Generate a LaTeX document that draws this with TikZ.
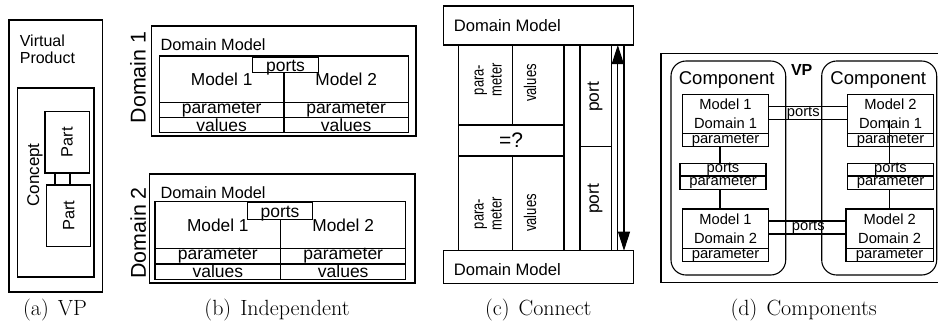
\documentclass[tikz,border=0pt]{standalone}
\usepackage{fontspec}
\newfontfamily\lsans{Liberation Sans}
\usepackage{tikz}
\usetikzlibrary{arrows.meta}

\begin{document}
\begin{tikzpicture}[
    x=1pt, y=-1pt, line width=1.1pt,
    cell/.style={rectangle, draw, inner sep=0pt, outer sep=0pt, anchor=north west},
    comp/.style={cell, rounded corners=15pt},
    whitecell/.style={cell, fill=white},
    txt/.style={inner sep=0pt, font=\lsans\fontsize{#1}{#1}\selectfont},
    subcap/.style={inner sep=0pt, anchor=base, font=\fontsize{22}{24}\selectfont},
    arrow/.style={-{Triangle[length=19pt, width=12pt]}}
]
\useasboundingbox (0,0) rectangle (938,322);

\node[cell, minimum width=93.7, minimum height=272] (vp) at (9,20) {};
\node[txt=16, anchor=base west] (vptxt) at (19.3,46.7) {Virtual};
\node[txt=16, anchor=base west] (vptxt2) at (19.3,63.3) {Product};
\node[cell, minimum width=76.7, minimum height=189] (concept) at (17.3,88) {};
\node[txt=17, rotate=90] (concepttxt) at (35,175) {Concept};
\node[cell, minimum width=44.3, minimum height=61.3] (part1) at (45,111.7) {};
\node[txt=16.4, rotate=90] (part1txt) at (part1.center) {Part};
\node[cell, minimum width=44, minimum height=61.3] (part2) at (46.7,185) {};
\node[txt=16.4, rotate=90] (part2txt) at (part2.center) {Part};
\draw ([xshift=10pt]part1.south west) -- ([xshift=10pt]part1.south west |- part2.north);
\draw ([xshift=25pt]part1.south west) -- ([xshift=25pt]part1.south west |- part2.north);
\node[subcap] (capa) at (55,315) {(a)\hspace{9pt}VP};

\node[cell, minimum width=264.3, minimum height=110] (dom1) at (151.7,26) {};
\node[txt=21.4, rotate=90] (dom1txt) at (138,77.5) {Domain 1};
\node[txt=16.3, anchor=base west] (dm1txt) at (160,50) {Domain Model};
\node[cell, minimum width=124.7, minimum height=46.3, txt=17.3] (mod11) at (159.3,56) {Model 1};
\node[cell, minimum width=124.3, minimum height=46.3, txt=17.3] (mod21) at (284,56) {Model 2};
\node[cell, minimum width=124.7, minimum height=15, txt=17.5] (par11) at (159.3,102.3) {parameter};
\node[cell, minimum width=124.3, minimum height=15, txt=17.5] (par21) at (284,102.3) {parameter};
\node[cell, minimum width=124.7, minimum height=15.4, txt=17.5] (val11) at (159.3,117.3) {values};
\node[cell, minimum width=124.3, minimum height=15.4, txt=17.5] (val21) at (284,117.3) {values};
\node[whitecell, minimum width=65.6, minimum height=15] (ports1) at (252.7,57.3) {};
\node[txt=17.5, anchor=base] (ports1txt) at (285.5,71) {ports};

\node[cell, minimum width=265.7, minimum height=109] (dom2) at (149.3,174) {};
\node[txt=21.4, rotate=90] (dom2txt) at (138.3,233) {Domain 2};
\node[txt=16.3, anchor=base west] (dm2txt) at (160,198.3) {Domain Model};
\node[cell, minimum width=125.7, minimum height=46.6, txt=17.3] (mod12) at (155,201.7) {Model 1};
\node[cell, minimum width=125, minimum height=46.6, txt=17.3] (mod22) at (280.7,201.7) {Model 2};
\node[cell, minimum width=125.7, minimum height=15.7, txt=17.5] (par12) at (155,248.3) {parameter};
\node[cell, minimum width=125, minimum height=15.7, txt=17.5] (par22) at (280.7,248.3) {parameter};
\node[cell, minimum width=125.7, minimum height=15.3, txt=17.5] (val12) at (155,264) {values};
\node[cell, minimum width=125, minimum height=15.3, txt=17.5] (val22) at (280.7,264) {values};
\node[whitecell, minimum width=65.4, minimum height=17.3] (ports2) at (247.3,202) {};
\node[txt=17.5, anchor=base] (ports2txt) at (280,217.5) {ports};
\node[subcap] (capb) at (277,315) {(b)\hspace{9pt}Independent};

\node[cell, minimum width=190, minimum height=39] (dmtop) at (443.3,6) {};
\node[txt=16.6, anchor=base west] (dmtoptxt) at (453.3,31.7) {Domain Model};
\node[cell, minimum width=190, minimum height=32.6] (dmbot) at (443.3,250.7) {};
\node[txt=16.6, anchor=base west] (dmbottxt) at (453.3,275.5) {Domain Model};
\node[cell, minimum width=54, minimum height=80] (parU) at (458.3,45) {};
\node[cell, minimum width=51.7, minimum height=80] (valU) at (512.3,45) {};
\node[cell, minimum width=105.7, minimum height=31, txt=21] (eq) at (458.3,125) {=?};
\node[cell, minimum width=54, minimum height=94.7] (parL) at (458.3,156) {};
\node[cell, minimum width=51.7, minimum height=94.7] (valL) at (512.3,156) {};
\node[cell, minimum width=31.7, minimum height=101.7] (portU) at (580,45) {};
\node[cell, minimum width=31.7, minimum height=104] (portL) at (580,146.7) {};
\node[txt=16.8, font=\lsans\fontsize{16.8}{18}\selectfont, rotate=90] (parUtxt) at (489,80) {\scalebox{0.77}[1]{\begin{tabular}{@{}c@{}}para-\\meter\end{tabular}}};
\node[txt=16.8, font=\lsans\fontsize{16.8}{18}\selectfont, rotate=90] (parLtxt) at (489,214) {\scalebox{0.77}[1]{\begin{tabular}{@{}c@{}}para-\\meter\end{tabular}}};
\node[txt=17, rotate=90] (valUtxt) at (530,83) {\scalebox{0.77}[1]{values}};
\node[txt=17, rotate=90] (valLtxt) at (530,213) {\scalebox{0.77}[1]{values}};
\node[txt=17.4, rotate=90] (portUtxt) at (595,97) {port};
\node[txt=17.4, rotate=90] (portLtxt) at (595,198.7) {port};
\draw[arrow] ([xshift=-15.5pt]dmbot.north east) -- ([xshift=-15.5pt]dmtop.south east);
\draw[arrow] ([xshift=-9.3pt]dmtop.south east) -- ([xshift=-9.3pt]dmbot.north east);
\node[subcap] (capc) at (538.3,315) {(c)\hspace{9pt}Connect};

\node[cell, minimum width=278.5, minimum height=229.4] (vpd) at (661,53.3) {};
\node[txt=16, font=\lsans\bfseries\fontsize{16}{16}\selectfont] (vpdtxt) at (801.7,70) {VP};
\node[comp, minimum width=114.7, minimum height=214] (compL) at (671,61) {};
\node[comp, minimum width=115, minimum height=214] (compR) at (821.7,61) {};
\node[txt=18.5] (compLtxt) at (726.7,80) {Component};
\node[txt=18.5] (compRtxt) at (878.3,80) {Component};
\node[cell, minimum width=85.6, minimum height=39, txt=14.7, font=\lsans\fontsize{14.7}{19.3}\selectfont, align=center] (m11) at (682.7,94.3) {Model 1\\Domain 1};
\node[cell, minimum width=85.6, minimum height=13.4, txt=14.8] (p11) at (682.7,133.3) {parameter};
\node[cell, minimum width=85.6, minimum height=39, txt=14.7, font=\lsans\fontsize{14.7}{19.3}\selectfont, align=center] (m21) at (847.7,94.3) {Model 2\\Domain 1};
\node[cell, minimum width=85.6, minimum height=13.4, txt=14.8] (p21) at (847.7,133.3) {parameter};
\node[cell, minimum width=86, minimum height=12.7, txt=14.7] (pt1) at (680,163.3) {ports};
\node[cell, minimum width=86, minimum height=13.3, txt=14.8] (pr1) at (680,176) {parameter};
\node[cell, minimum width=85.6, minimum height=12.7, txt=14.7] (pt2) at (847.7,163.3) {ports};
\node[cell, minimum width=85.6, minimum height=13.3, txt=14.8] (pr2) at (847.7,176) {parameter};
\node[cell, minimum width=85.6, minimum height=39.3, txt=14.7, font=\lsans\fontsize{14.7}{19.3}\selectfont, align=center] (m12) at (682.7,209) {Model 1\\Domain 2};
\node[cell, minimum width=85.6, minimum height=13.4, txt=14.8] (p12) at (682.7,248.3) {parameter};
\node[cell, minimum width=87.3, minimum height=39.3, txt=14.7, font=\lsans\fontsize{14.7}{19.3}\selectfont, align=center] (m22) at (846,209) {Model 2\\Domain 2};
\node[cell, minimum width=87.3, minimum height=13.4, txt=14.8] (p22) at (846,248.3) {parameter};
\draw ([yshift=-12.4pt]m11.north east) -- ([yshift=-12.4pt]m21.north west);
\draw ([yshift=-25pt]m11.north east) -- ([yshift=-25pt]m21.north west);
\node[txt=14.7] (portsD1) at (803.3,113.5) {ports};
\draw ([yshift=-12pt]m12.north east) -- ([yshift=-12pt]m22.north west);
\draw ([yshift=-25pt]m12.north east) -- ([yshift=-25pt]m22.north west);
\node[txt=14.7] (portsD2) at (808.3,227.5) {ports};
\coordinate (vl) at (720,0);
\coordinate (vr) at (889.3,0);
\draw (vl |- p11.south) -- (vl |- pt1.north);
\draw (vl |- pr1.south) -- (vl |- m12.north);
\draw ([yshift=-6pt]vr |- m21.center) -- (vr |- pt2.north);
\draw (vr |- pr2.south) -- (vr |- m22.north);
\node[subcap] (capd) at (803.7,315) {(d)\hspace{9pt}Components};
\end{tikzpicture}
\end{document}
